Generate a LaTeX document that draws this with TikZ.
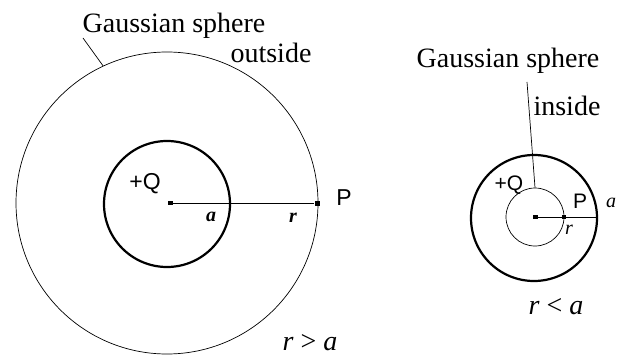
\documentclass[tikz,border=0pt]{standalone}
\usepackage{fontspec}
\setmainfont{Liberation Serif}
\newfontfamily\sansf{Liberation Sans}
\usetikzlibrary{shapes, positioning}

\begin{document}
\begin{tikzpicture}[x=1pt, y=-1pt,
    shell/.style={circle, draw, line width=2.2pt, inner sep=0pt},
    gauss/.style={circle, draw, line width=0.7pt, inner sep=0pt},
    dot/.style={rectangle, fill, inner sep=0pt, minimum width=5pt, minimum height=4pt},
    lbl/.style={inner sep=0pt, anchor=base, font=\fontsize{28}{30}\selectfont},
    sym/.style={inner sep=0pt, font=\fontsize{20}{22}\selectfont\itshape},
    chg/.style={inner sep=0pt, font=\sansf\fontsize{23}{25}\selectfont}]
    \useasboundingbox (0,0) rectangle (617,358);

    % Outside (r > a)
    \node[gauss, minimum size=302pt] (gsOut) at (167,203) {};
    \node[shell, minimum size=126pt] (shL) at (167,204) {};
    \node[dot] (cL) at (170,203) {};
    \node[dot, minimum height=5pt] (pL) at (317,203) {};
    \draw[line width=0.9pt] (cL) -- (pL);

    \node[lbl] (gsL) at (174,33) {Gaussian sphere};
    \node[lbl] (outL) at (271,63) {outside};
    \coordinate (ldL) at (83,38);
    \draw[line width=0.7pt] (ldL) -- (gsOut.115);

    \node[chg] (qL) at (145,184) {+Q};
    \node[chg] (PL) at (344,198) {P};
    \node[sym, font=\fontsize{20}{22}\selectfont\bfseries\itshape] (aL) at (211,217) {a};
    \node[sym, font=\fontsize{20}{22}\selectfont\bfseries\itshape] (rL) at (293,218) {r};
    \node[lbl] (condL) at (310,350) {\textit{r} > \textit{a}};

    % Inside (r < a)
    \node[shell, minimum size=126pt] (shR) at (534,218) {};
    \node[gauss, minimum size=58pt] (gsIn) at (535,217) {};
    \node[dot] (cR) at (535,217) {};
    \node[dot, minimum width=4pt] (pR) at (564,217) {};
    \coordinate (edR) at (598,217);
    \draw[line width=0.9pt] (cR) -- (edR);

    \node[lbl] (gsR) at (508,68) {Gaussian sphere};
    \node[lbl] (inR) at (567,116) {inside};
    \coordinate (ldR) at (527,82);
    \draw[line width=0.7pt] (ldR) -- (gsIn.north);

    \node[chg, font=\sansf\fontsize{21}{23}\selectfont] (qR) at (509,185) {+Q};
    \node[chg, font=\sansf\fontsize{21}{23}\selectfont] (PR) at (580,201) {P};
    \node[sym] (aR) at (611,203) {a};
    \node[sym] (rR) at (569,230) {r};
    \node[lbl] (condR) at (556,314) {\textit{r} < \textit{a}};
\end{tikzpicture}
\end{document}
